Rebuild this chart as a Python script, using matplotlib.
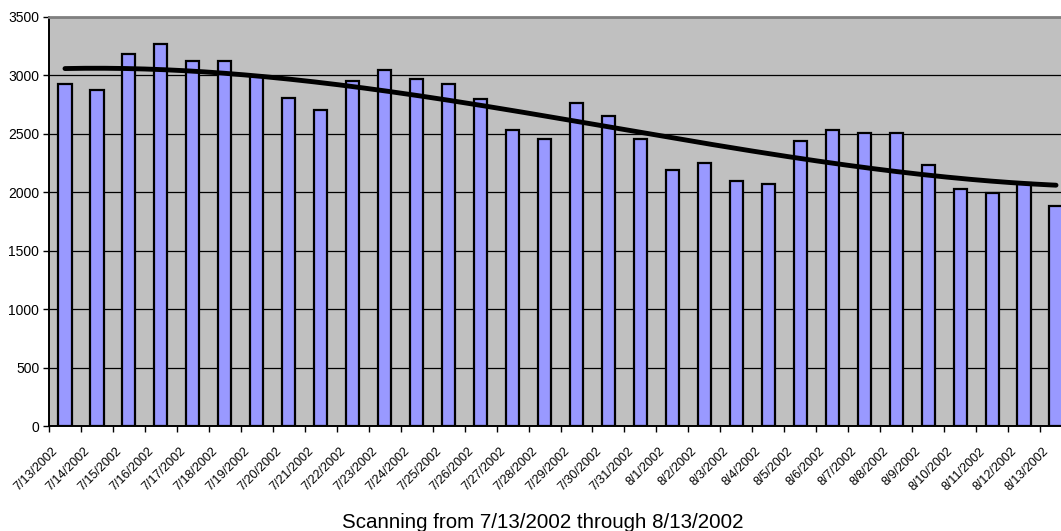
import numpy as np
import matplotlib
matplotlib.use("Agg")
import matplotlib.pyplot as plt
import matplotlib.transforms as mtransforms
from matplotlib.ticker import FixedLocator, NullFormatter

plt.rcParams["font.family"] = ["Liberation Sans", "DejaVu Sans"]

# ── Daily scan counts ──────────────────────────────────────────────────────
dates = [
    "7/13/2002", "7/14/2002", "7/15/2002", "7/16/2002", "7/17/2002",
    "7/18/2002", "7/19/2002", "7/20/2002", "7/21/2002", "7/22/2002",
    "7/23/2002", "7/24/2002", "7/25/2002", "7/26/2002", "7/27/2002",
    "7/28/2002", "7/29/2002", "7/30/2002", "7/31/2002", "8/1/2002",
    "8/2/2002", "8/3/2002", "8/4/2002", "8/5/2002", "8/6/2002",
    "8/7/2002", "8/8/2002", "8/9/2002", "8/10/2002", "8/11/2002",
    "8/12/2002", "8/13/2002",
]
scans = [
    2930, 2875, 3180, 3270, 3125, 3125, 2995, 2805, 2700, 2950,
    3045, 2970, 2925, 2795, 2535, 2455, 2760, 2655, 2455, 2190,
    2250, 2095, 2075, 2435, 2535, 2510, 2510, 2230, 2030, 1995,
    2080, 1885,
]
yticks = [0, 500, 1000, 1500, 2000, 2500, 3000, 3500]
title = "Scanning from 7/13/2002 through 8/13/2002"

W, H = 1061, 531
fig = plt.figure(figsize=(W / 100, H / 100), dpi=100)

# plot area runs a little past the right edge of the canvas
left, right, top, bottom = 49, 1072, 17, 426
ax = fig.add_axes([left / W, 1 - bottom / H, (right - left) / W, (bottom - top) / H])
ax.set_facecolor("#C0C0C0")

x = np.arange(len(scans))
ax.bar(x, scans, width=0.41, color="#9999FF", edgecolor="black",
       linewidth=1.6, zorder=3)

# polynomial trend line through the daily counts
coef = np.polyfit(x, scans, 3)
xs = np.linspace(x[0], x[-1], 200)
ax.plot(xs, np.polyval(coef, xs), color="black", lw=3.5,
        solid_capstyle="round", zorder=4)

ax.set_xlim(-0.5, len(scans) - 0.5)
ax.set_ylim(0, 3500)
ax.set_yticks(yticks)
ax.yaxis.grid(True, color="black", lw=0.9, zorder=1)
ax.set_axisbelow(True)

ax.set_xticks(x)
ax.set_xticklabels(dates, rotation=45, ha="right", va="center",
                   rotation_mode="anchor", fontsize=9)
ax.xaxis.set_minor_locator(FixedLocator(np.arange(-0.5, len(scans), 1.0)))
ax.xaxis.set_minor_formatter(NullFormatter())
ax.tick_params(axis="x", which="major", length=0, pad=17)
ax.tick_params(axis="x", which="minor", length=4, width=1, color="black")
ax.tick_params(axis="y", length=4, width=1, labelsize=10, pad=3)

# nudge the slanted date labels a bit to the left
shift = mtransforms.ScaledTranslation(-9 / 100, 0, fig.dpi_scale_trans)
for lbl in ax.get_xticklabels():
    lbl.set_transform(lbl.get_transform() + shift)

for side in ("left", "bottom"):
    ax.spines[side].set_color("black")
    ax.spines[side].set_linewidth(1.4)
ax.spines["top"].set_color("#808080")
ax.spines["top"].set_linewidth(2)
ax.spines["right"].set_visible(False)

fig.text(543 / W, 3 / H, title, ha="center", va="baseline", fontsize=14.8)

fig.savefig("out.png", dpi=100)
